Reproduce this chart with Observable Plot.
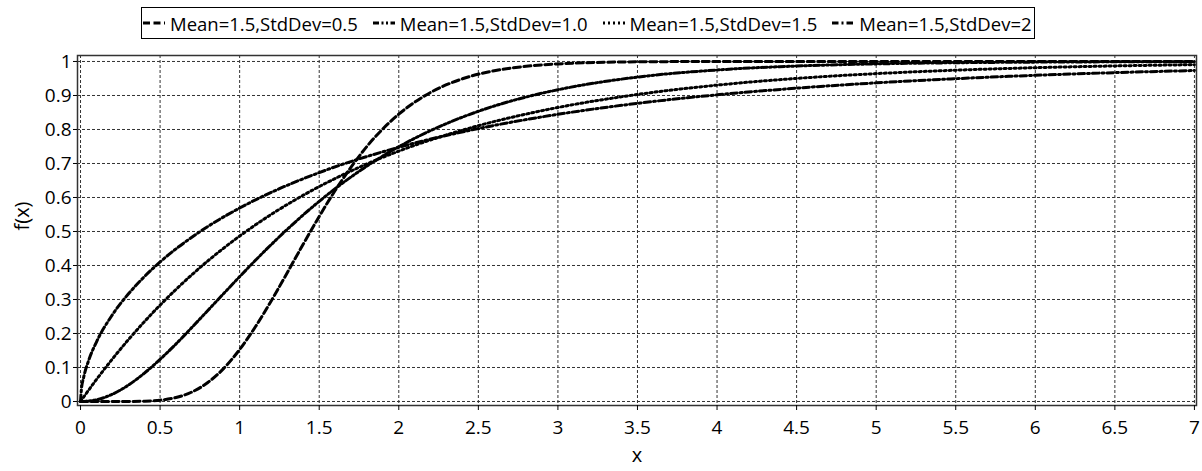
<!DOCTYPE html>
<html><head><meta charset="utf-8">
<script src="https://cdn.jsdelivr.net/npm/d3@7"></script>
<script src="https://cdn.jsdelivr.net/npm/@observablehq/plot@0.6"></script>
<style>
body{margin:0;background:#fff;font-family:"Open Sans",sans-serif;color:#000;}
#legend{position:relative;height:44px;}
#legend .box{position:absolute;left:141px;top:7px;height:30px;border:1px solid #000;display:flex;align-items:center;padding:0 0 0 1px;font-size:18.5px;white-space:nowrap;}
.item{display:flex;align-items:center;margin-right:15px}
.item:last-child{margin-right:2px}
.item svg{margin-right:5px}
#chart g[aria-label^="x-axis"] text, #chart g[aria-label^="y-axis"] text{font-size:19px;}
#chart g[aria-label="text"] text{font-size:20px;}
</style></head><body>
<div id="legend"><div class="box"></div></div>
<div id="chart"></div>
<script>
// Series labels
const seriesLabels = ["Mean=1.5,StdDev=0.5", "Mean=1.5,StdDev=1.0", "Mean=1.5,StdDev=1.5", "Mean=1.5,StdDev=2"];

// Series 1 (StdDev=0.5)
const x1 = [0, 0.3, 0.4, 0.5, 0.6, 0.7, 0.8, 0.9, 1.0, 1.1, 1.2, 1.3, 1.4, 1.5, 1.6, 1.7, 1.8, 1.9, 2.0, 2.2, 2.4, 2.6, 2.8, 3.0, 3.5, 4.0, 5.0, 6.0, 7.0];
const y1 = [0, 0.0001, 0.0009, 0.0038, 0.0117, 0.0279, 0.0558, 0.0974, 0.1528, 0.2204, 0.2973, 0.3796, 0.4631, 0.5443, 0.6204, 0.6892, 0.7504, 0.8019, 0.8450, 0.9090, 0.9491, 0.9727, 0.9859, 0.9929, 0.9990, 0.9999, 1, 1, 1];

// Series 2 (StdDev=1.0)
const x2 = [0, 0.1, 0.2, 0.3, 0.4, 0.5, 0.6, 0.7, 0.8, 0.9, 1.0, 1.2, 1.4, 1.6, 1.8, 2.0, 2.2, 2.4, 2.6, 2.8, 3.0, 3.5, 4.0, 4.5, 5.0, 5.5, 6.0, 6.5, 7.0];
const y2 = [0, 0.0050, 0.0213, 0.0479, 0.0828, 0.1240, 0.1692, 0.2179, 0.2676, 0.3177, 0.3672, 0.4622, 0.5489, 0.6258, 0.6925, 0.7492, 0.7969, 0.8364, 0.8690, 0.8955, 0.9169, 0.9541, 0.9750, 0.9866, 0.9929, 0.9963, 0.9981, 0.9990, 0.9995];

// Series 3 (StdDev=1.5)
const x3 = [0, 0.05, 0.1, 0.2, 0.3, 0.4, 0.5, 0.6, 0.7, 0.8, 0.9, 1.0, 1.2, 1.4, 1.6, 1.8, 2.0, 2.5, 3.0, 3.5, 4.0, 4.5, 5.0, 5.5, 6.0, 6.5, 7.0];
const y3 = [0, 0.0328, 0.0645, 0.1248, 0.1813, 0.2341, 0.2835, 0.3297, 0.3729, 0.4134, 0.4512, 0.4866, 0.5507, 0.6068, 0.6558, 0.6988, 0.7364, 0.8111, 0.8647, 0.9030, 0.9305, 0.9502, 0.9643, 0.9744, 0.9817, 0.9869, 0.9906];

// Series 4 (StdDev=2)
const x4 = [0, 0.005, 0.02, 0.05, 0.1, 0.2, 0.3, 0.4, 0.5, 0.75, 1.0, 1.25, 1.5, 2.0, 2.5, 3.0, 3.5, 4.0, 4.5, 5.0, 5.5, 6.0, 6.5, 7.0];
const y4 = [0, 0.0329, 0.0715, 0.1192, 0.1749, 0.2549, 0.3160, 0.3666, 0.4103, 0.4993, 0.5690, 0.6259, 0.6732, 0.7476, 0.8027, 0.8446, 0.8769, 0.9019, 0.9216, 0.9371, 0.9494, 0.9593, 0.9672, 0.9734];

// Ticks
const xTicks = [0, 0.5, 1, 1.5, 2, 2.5, 3, 3.5, 4, 4.5, 5, 5.5, 6, 6.5, 7];
const yTicks = [0, 0.1, 0.2, 0.3, 0.4, 0.5, 0.6, 0.7, 0.8, 0.9, 1];

const xLabel = "x";
const yLabel = "f(x)";

const dashes = ["7,3.5", "6,2.5,2,2.5,2,2.5", "2,3", "6.5,3,2,3"];
const xs = [x1, x2, x3, x4], ys = [y1, y2, y3, y4];
const tables = xs.map((xa, k) => xa.map((x, i) => ({x, y: ys[k][i]})));

// legend
const box = document.querySelector("#legend .box");
seriesLabels.forEach((lab, k) => {
  const it = document.createElement("div");
  it.className = "item";
  it.innerHTML = `<svg width="22" height="10"><line x1="0" x2="22" y1="5" y2="5" stroke="#000" stroke-width="3" stroke-dasharray="${dashes[k]}"/></svg><span>${lab}</span>`;
  box.appendChild(it);
});

const chart = Plot.plot({
  width: 1202,
  height: 427,
  marginLeft: 77,
  marginRight: 6,
  marginTop: 11,
  marginBottom: 66,
  style: {fontFamily: "'Open Sans', sans-serif", fontSize: "19px", color: "#000", background: "#fff"},
  x: {domain: [-0.019, 7.013]},
  y: {domain: [-0.0118, 1.0176]},
  marks: [
    Plot.ruleX(xTicks, {stroke: "#333", strokeWidth: 1, strokeDasharray: "3,2"}),
    Plot.ruleY(yTicks, {stroke: "#333", strokeWidth: 1, strokeDasharray: "3,2"}),
    ...tables.map((t, k) => Plot.line(t, {x: "x", y: "y", curve: "monotone-x", stroke: "#000", strokeWidth: 3, strokeDasharray: dashes[k]})),
    Plot.frame({stroke: "#333", strokeWidth: 1.5}),
    Plot.axisX(xTicks, {tickSize: 5, tickPadding: 10, label: null, tickFormat: d => String(d), fontSize: 19}),
    Plot.axisY(yTicks, {tickSize: 4, tickPadding: 2, label: null, tickFormat: d => String(d), fontSize: 19}),
    Plot.text([xLabel], {text: d => d, frameAnchor: "bottom", dy: 56, fontSize: 20}),
    Plot.text([yLabel], {text: d => d, frameAnchor: "left", dx: -55, rotate: -90, fontSize: 20})
  ]
});
document.getElementById("chart").appendChild(chart);
</script>
</body></html>
